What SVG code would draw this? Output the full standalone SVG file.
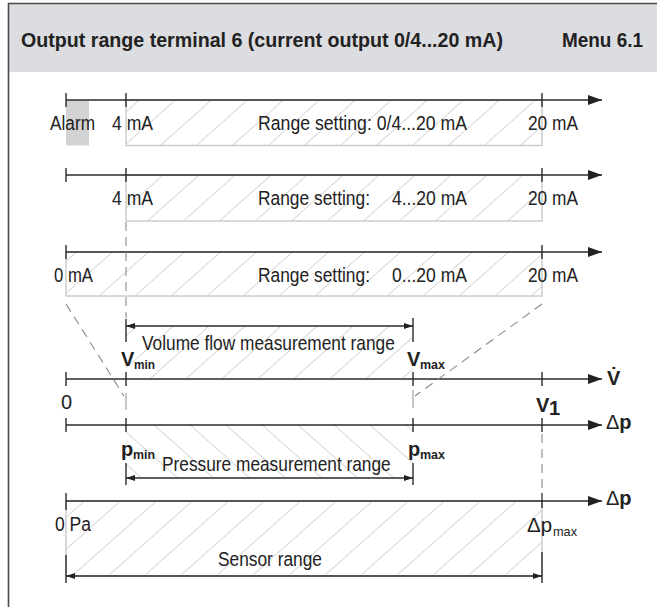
<svg xmlns="http://www.w3.org/2000/svg" width="657" height="607" viewBox="0 0 657 607">
<style>
.t{font-family:"Liberation Sans",Arial,sans-serif;font-size:20px;fill:#222}
.b{font-weight:bold}
.s{font-size:13px}
.ax{stroke:#2a2a2a;stroke-width:1.6;fill:none}
.tk{stroke:#2a2a2a;stroke-width:1.4}
.rb{fill:url(#hf);stroke:#c9c9c9;stroke-width:1.4}
.br{stroke:#2a2a2a;stroke-width:1.3;fill:none}
.dl{stroke:#8a8a8a;stroke-width:1.1;stroke-dasharray:9 6;fill:none}
.gl{stroke:#9a9a9a;stroke-width:1.1;fill:none}
</style>
<defs>
<pattern id="hf" patternUnits="userSpaceOnUse" width="36" height="32"><path d="M-2,33.78 L38,-1.78" stroke="#cdcdcd" stroke-width="1"/></pattern>
<pattern id="hb" patternUnits="userSpaceOnUse" width="36" height="32"><path d="M-2,-1.78 L38,33.78" stroke="#cdcdcd" stroke-width="1"/></pattern>
<marker id="ah" markerUnits="userSpaceOnUse" markerWidth="15" markerHeight="11" refX="14" refY="5" orient="auto"><path d="M0,0 L14,5 L0,10 z" fill="#222"/></marker>
<marker id="bh" markerUnits="userSpaceOnUse" markerWidth="10" markerHeight="7" refX="9" refY="3" orient="auto-start-reverse"><path d="M0,0 L9,3 L0,6 z" fill="#222"/></marker>
</defs>
<rect width="657" height="607" fill="#fff"/>
<g id="header">
<rect x="8" y="3" width="649" height="69" fill="#dcdde0"/>
<path d="M657,3.5 H8.5 V607" stroke="#4a4a4a" stroke-width="1.6" fill="none"/>
<text class="t b" x="21" y="47" font-size="19" textLength="482" lengthAdjust="spacingAndGlyphs">Output range terminal 6 (current output 0/4...20 mA)</text>
<text class="t b" x="562" y="47" font-size="19" textLength="81" lengthAdjust="spacingAndGlyphs">Menu 6.1</text>
</g>
<g id="row1">
<rect x="66" y="100" width="23" height="45.5" fill="#d2d2d2"/>
<rect class="rb" x="126" y="100" width="416" height="45.5"/>
<line class="ax" x1="66" y1="100" x2="602" y2="100" marker-end="url(#ah)"/>
<line class="tk" x1="66" y1="93" x2="66" y2="107"/>
<line class="tk" x1="126" y1="93" x2="126" y2="107"/>
<line class="tk" x1="542" y1="93" x2="542" y2="107"/>
<text class="t" x="50" y="130" textLength="45" lengthAdjust="spacingAndGlyphs">Alarm</text>
<text class="t" x="112" y="130" textLength="41" lengthAdjust="spacingAndGlyphs">4 mA</text>
<text class="t" x="258" y="130" textLength="209" lengthAdjust="spacingAndGlyphs">Range setting: 0/4...20 mA</text>
<text class="t" x="528" y="130" textLength="50" lengthAdjust="spacingAndGlyphs">20 mA</text>
</g>
<g id="row2">
<rect class="rb" x="126" y="175" width="416" height="46"/>
<line class="ax" x1="66" y1="175" x2="602" y2="175" marker-end="url(#ah)"/>
<line class="tk" x1="66" y1="168" x2="66" y2="182"/>
<line class="tk" x1="126" y1="168" x2="126" y2="182"/>
<line class="tk" x1="542" y1="168" x2="542" y2="182"/>
<text class="t" x="112" y="205" textLength="41" lengthAdjust="spacingAndGlyphs">4 mA</text>
<text class="t" x="258" y="205" textLength="112" lengthAdjust="spacingAndGlyphs">Range setting:</text>
<text class="t" x="392" y="205" textLength="75" lengthAdjust="spacingAndGlyphs">4...20 mA</text>
<text class="t" x="528" y="205" textLength="50" lengthAdjust="spacingAndGlyphs">20 mA</text>
</g>
<g id="row3">
<rect class="rb" x="66" y="252" width="476" height="44"/>
<line class="ax" x1="66" y1="252" x2="602" y2="252" marker-end="url(#ah)"/>
<line class="tk" x1="66" y1="245" x2="66" y2="259"/>
<line class="tk" x1="542" y1="245" x2="542" y2="259"/>
<text class="t" x="54" y="282" textLength="39" lengthAdjust="spacingAndGlyphs">0 mA</text>
<text class="t" x="258" y="282" textLength="112" lengthAdjust="spacingAndGlyphs">Range setting:</text>
<text class="t" x="392" y="282" textLength="75" lengthAdjust="spacingAndGlyphs">0...20 mA</text>
<text class="t" x="528" y="282" textLength="50" lengthAdjust="spacingAndGlyphs">20 mA</text>
</g>
<g id="volume-flow">
<rect x="126" y="326" width="287" height="53" fill="url(#hf)"/>
<line class="br" x1="126" y1="326" x2="413" y2="326" marker-start="url(#bh)" marker-end="url(#bh)"/>
<line class="tk" x1="126" y1="319" x2="126" y2="342"/>
<line class="tk" x1="413" y1="318" x2="413" y2="342"/>
<text class="t" transform="translate(142,350) scale(0.865,1)" x="0" y="0">Volume flow measurement range</text>
<text class="t b" x="121" y="366">V</text>
<text class="t b s" x="134" y="369" textLength="21" lengthAdjust="spacingAndGlyphs">min</text>
<text class="t b" x="407" y="366">V</text>
<text class="t b s" x="420" y="369" textLength="25" lengthAdjust="spacingAndGlyphs">max</text>
<line class="ax" x1="66" y1="379" x2="602" y2="379" marker-end="url(#ah)"/>
<line class="tk" x1="66" y1="372" x2="66" y2="386"/>
<line class="tk" x1="126" y1="372" x2="126" y2="386"/>
<line class="tk" x1="413" y1="372" x2="413" y2="386"/>
<line class="tk" x1="542" y1="372" x2="542" y2="386"/>
<text class="t" x="61" y="409">0</text>
<text class="t b" x="607" y="385">V&#x307;</text>
<text class="t b" x="536" y="412">V</text>
<text class="t b" x="549" y="415" font-size="14">1</text>
</g>
<g id="pressure">
<rect x="126" y="425" width="287" height="53" fill="url(#hb)"/>
<line class="ax" x1="66" y1="425" x2="602" y2="425" marker-end="url(#ah)"/>
<line class="tk" x1="66" y1="418" x2="66" y2="432"/>
<line class="tk" x1="126" y1="418" x2="126" y2="432"/>
<line class="tk" x1="413" y1="418" x2="413" y2="432"/>
<line class="tk" x1="542" y1="418" x2="542" y2="432"/>
<text class="t" x="606" y="429">Δ<tspan class="b">p</tspan></text>
<text class="t b" x="121" y="456">p</text>
<text class="t b s" x="133" y="459" textLength="22" lengthAdjust="spacingAndGlyphs">min</text>
<text class="t b" x="408" y="456">p</text>
<text class="t b s" x="420" y="459" textLength="25" lengthAdjust="spacingAndGlyphs">max</text>
<text class="t" transform="translate(162,471) scale(0.865,1)" x="0" y="0">Pressure measurement range</text>
<line class="br" x1="126" y1="478" x2="413" y2="478" marker-start="url(#bh)" marker-end="url(#bh)"/>
<line class="tk" x1="126" y1="463" x2="126" y2="485"/>
<line class="tk" x1="413" y1="463" x2="413" y2="485"/>
</g>
<g id="sensor">
<rect class="rb" x="66" y="501" width="476" height="75"/>
<line class="ax" x1="66" y1="501" x2="602" y2="501" marker-end="url(#ah)"/>
<line class="tk" x1="66" y1="493" x2="66" y2="510"/>
<line class="tk" x1="542" y1="493" x2="542" y2="508"/>
<text class="t" x="606" y="505">Δ<tspan class="b">p</tspan></text>
<text class="t" x="55" y="531" textLength="36" lengthAdjust="spacingAndGlyphs">0 Pa</text>
<text class="t" x="527" y="532" textLength="25" lengthAdjust="spacingAndGlyphs">Δp</text>
<text class="t s" x="553" y="536" textLength="24" lengthAdjust="spacingAndGlyphs">max</text>
<text class="t" x="218" y="566" textLength="104" lengthAdjust="spacingAndGlyphs">Sensor range</text>
<line class="br" x1="66" y1="576" x2="542" y2="576" marker-start="url(#bh)" marker-end="url(#bh)"/>
<line class="tk" x1="66" y1="555" x2="66" y2="583"/>
<line class="tk" x1="542" y1="552" x2="542" y2="583"/>
</g>
<g id="connectors">
<line class="dl" x1="126" y1="222" x2="126" y2="318"/>
<line class="dl" x1="66" y1="304" x2="124" y2="396"/>
<line class="dl" x1="542" y1="304" x2="415" y2="396"/>
<line class="gl" x1="126" y1="393" x2="126" y2="410"/>
<line class="gl" x1="413" y1="390" x2="413" y2="408"/>
<line class="dl" x1="542" y1="434" x2="542" y2="500"/>
</g>
</svg>
